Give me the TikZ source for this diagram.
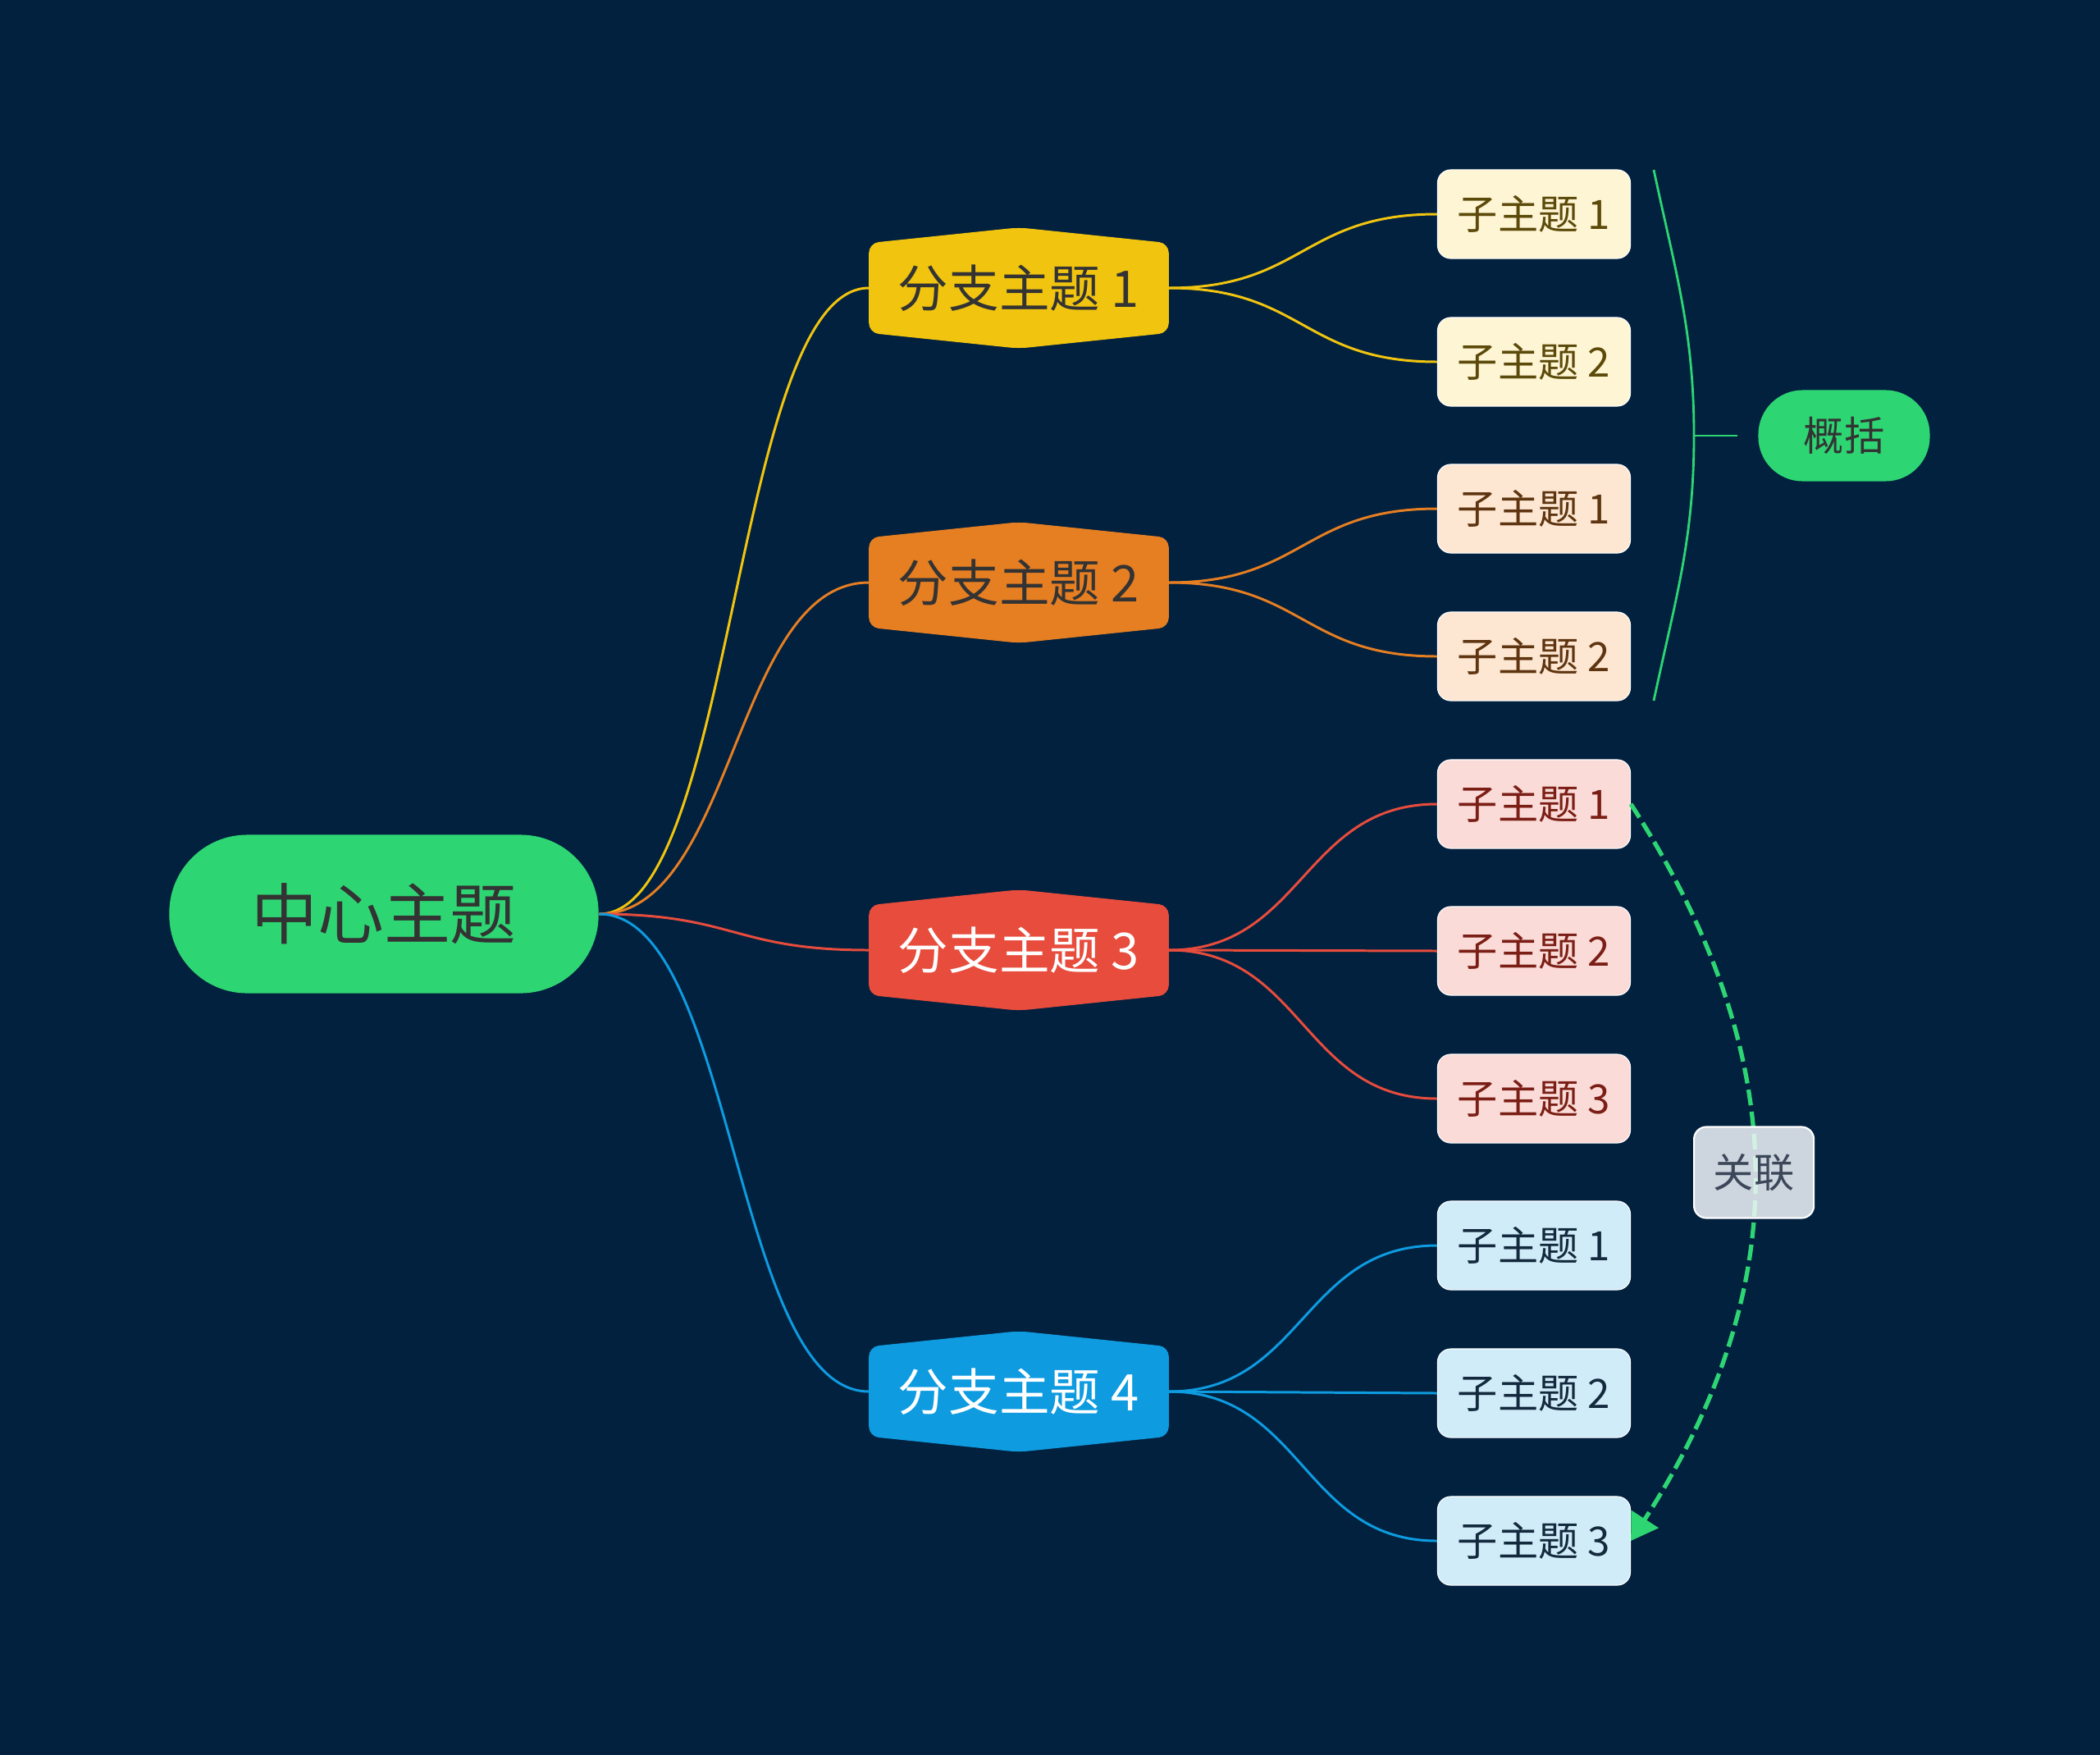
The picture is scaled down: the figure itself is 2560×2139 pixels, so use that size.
\documentclass[tikz,border=0pt]{standalone}
\usepackage{fontspec}
\setmainfont{Noto Sans CJK SC}
\usetikzlibrary{arrows.meta}
\definecolor{bgnavy}{RGB}{1,33,63}
\definecolor{rootgreen}{RGB}{46,213,115}
\definecolor{txtdark}{RGB}{51,51,51}
\definecolor{brA}{RGB}{241,196,15}
\definecolor{brB}{RGB}{230,126,34}
\definecolor{brC}{RGB}{231,76,60}
\definecolor{brD}{RGB}{14,155,224}
\definecolor{leafAfill}{RGB}{254,245,212}
\definecolor{leafAtext}{RGB}{92,74,10}
\definecolor{leafBfill}{RGB}{253,231,210}
\definecolor{leafBtext}{RGB}{94,53,16}
\definecolor{leafCfill}{RGB}{250,219,216}
\definecolor{leafCtext}{RGB}{123,30,21}
\definecolor{leafDfill}{RGB}{209,236,249}
\definecolor{leafDtext}{RGB}{19,41,61}
\definecolor{relfill}{RGB}{241,245,250}
\definecolor{reltext}{RGB}{60,72,90}
\pgfdeclarelayer{bg}
\pgfsetlayers{bg,main}
\tikzset{
  root/.style={fill=rootgreen,text=txtdark,minimum width=5.23cm,minimum height=1.93cm,rounded corners=0.95cm,inner sep=0pt,font=\fontsize{23}{23}\selectfont},
  branch/.style={minimum width=3.64cm,minimum height=1.08cm,inner sep=0pt,font=\fontsize{17.5}{17.5}\selectfont},
  leaf/.style={draw=white,line width=0.3pt,rounded corners=0.16cm,minimum width=2.35cm,minimum height=1.08cm,inner sep=0pt,font=\fontsize{14}{14}\selectfont},
  link/.style={line width=0.85pt},
  summary/.style={fill=rootgreen,text=txtdark,minimum width=2.09cm,minimum height=1.11cm,rounded corners=0.54cm,inner sep=0pt,font=\fontsize{14}{14}\selectfont},
  sumline/.style={rootgreen,line width=0.8pt},
  relation/.style={rootgreen,line width=1.5pt,dash pattern=on 5.5pt off 2.2pt,-{Triangle[length=9pt,width=11pt]}},
  rellabel/.style={fill=relfill,fill opacity=0.85,text opacity=1,draw=white,draw opacity=1,line width=0.6pt,text=reltext,rounded corners=0.15cm,minimum width=1.46cm,minimum height=1.11cm,inner sep=0pt,font=\fontsize{14}{14}\selectfont,solid},
}
\newcommand{\hexfill}[2]{%
  \begin{pgfonlayer}{bg}
  \fill[#2,rounded corners=0.12cm] (#1.north west) -- ([yshift=0.19cm]#1.north) -- (#1.north east) -- (#1.south east) -- ([yshift=-0.19cm]#1.south) -- (#1.south west) -- cycle;
  \end{pgfonlayer}}
\begin{document}
\begin{tikzpicture}[x=0.01cm,y=-0.01cm]
  \begin{pgfonlayer}{bg}
  \fill[bgnavy] (0,0) rectangle (2560,2139);
  \end{pgfonlayer}
  \useasboundingbox (0,0) rectangle (2560,2139);

  \node[root] (root) at (468,1114) {中心主题};

  \node[branch,text=txtdark] (b1) at (1242,351) {分支主题 1};
  \node[branch,text=txtdark] (b2) at (1242,710) {分支主题 2};
  \node[branch,text=white] (b3) at (1242,1158) {分支主题 3};
  \node[branch,text=white] (b4) at (1242,1696) {分支主题 4};
  \hexfill{b1}{brA}
  \hexfill{b2}{brB}
  \hexfill{b3}{brC}
  \hexfill{b4}{brD}

  \node[leaf,fill=leafAfill,text=leafAtext] (s11) at (1870,261) {子主题 1};
  \node[leaf,fill=leafAfill,text=leafAtext] (s12) at (1870,441) {子主题 2};
  \node[leaf,fill=leafBfill,text=leafBtext] (s21) at (1870,620) {子主题 1};
  \node[leaf,fill=leafBfill,text=leafBtext] (s22) at (1870,800) {子主题 2};
  \node[leaf,fill=leafCfill,text=leafCtext] (s31) at (1870,980) {子主题 1};
  \node[leaf,fill=leafCfill,text=leafCtext] (s32) at (1870,1159) {子主题 2};
  \node[leaf,fill=leafCfill,text=leafCtext] (s33) at (1870,1339) {子主题 3};
  \node[leaf,fill=leafDfill,text=leafDtext] (s41) at (1870,1518) {子主题 1};
  \node[leaf,fill=leafDfill,text=leafDtext] (s42) at (1870,1698) {子主题 2};
  \node[leaf,fill=leafDfill,text=leafDtext] (s43) at (1870,1878) {子主题 3};

  \draw[link,brA] (root.east) .. controls +(165,0) and +(-165,0) .. (b1.west);
  \draw[link,brB] (root.east) .. controls +(165,0) and +(-165,0) .. (b2.west);
  \draw[link,brC] (root.east) .. controls +(165,0) and +(-165,0) .. (b3.west);
  \draw[link,brD] (root.east) .. controls +(165,0) and +(-165,0) .. (b4.west);

  \draw[link,brA] (b1.east) .. controls +(164,0) and +(-164,0) .. (s11.west);
  \draw[link,brA] (b1.east) .. controls +(164,0) and +(-164,0) .. (s12.west);
  \draw[link,brB] (b2.east) .. controls +(164,0) and +(-164,0) .. (s21.west);
  \draw[link,brB] (b2.east) .. controls +(164,0) and +(-164,0) .. (s22.west);
  \draw[link,brC] (b3.east) .. controls +(164,0) and +(-164,0) .. (s31.west);
  \draw[link,brC] (b3.east) -- (s32.west);
  \draw[link,brC] (b3.east) .. controls +(164,0) and +(-164,0) .. (s33.west);
  \draw[link,brD] (b4.east) .. controls +(164,0) and +(-164,0) .. (s41.west);
  \draw[link,brD] (b4.east) -- (s42.west);
  \draw[link,brD] (b4.east) .. controls +(164,0) and +(-164,0) .. (s43.west);

  \coordinate (sumtop) at (2016,207);
  \coordinate (summid) at (2065,531);
  \coordinate (sumbot) at (2016,854);
  \coordinate (sumtick) at (2118,531);
  \node[summary] (sum) at (2248,531) {概括};
  \draw[sumline] (sumtop) to[out=-78,in=90] (summid) to[out=-90,in=78] (sumbot);
  \draw[sumline] (summid) -- (sumtick);

  \draw[relation] (s31.east) .. controls +(200,310) and +(200,-310) .. (s43.east)
    node[rellabel,pos=0.5] (rel) {关联};
\end{tikzpicture}
\end{document}
